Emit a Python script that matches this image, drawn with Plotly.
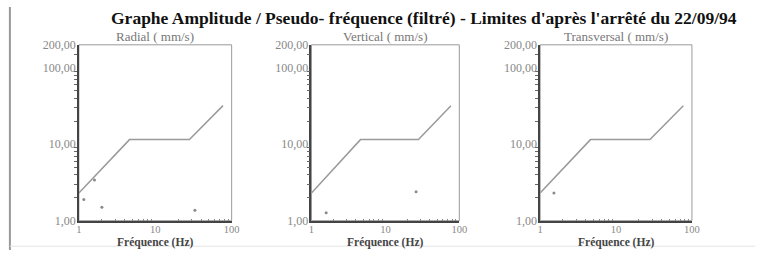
import plotly.graph_objects as go

# ---- data ----
panel_titles = ["Radial ( mm/s)", "Vertical ( mm/s)", "Transversal ( mm/s)"]
limit_freq = [1, 4.6, 28, 77]          # Hz
limit_amp = [2.3, 11.5, 11.5, 32]      # mm/s (limit curve, arrêté 22/09/94)
radial_freq = [1.16, 1.6, 2.0, 33]
radial_amp = [1.9, 3.4, 1.5, 1.37]
vertical_freq = [1.58, 26]
vertical_amp = [1.27, 2.4]
transversal_freq = [1.52]
transversal_amp = [2.3]
y_tickvals = [1, 10, 100, 200]
y_ticktext = ["1,00", "10,00", "100,00", "200,00"]
x_tickvals = [1, 10, 100]
x_ticktext = ["1", "10", "100"]
x_title = "Fréquence (Hz)"
minor_vals = [2, 3, 4, 5, 6, 7, 8, 9, 20, 30, 40, 50, 60, 70, 80, 90, 150]

W, H = 763, 257
SERIF = "Liberation Serif, Times New Roman, serif"

fig = go.Figure()

measures = [(radial_freq, radial_amp), (vertical_freq, vertical_amp),
            (transversal_freq, transversal_amp)]
x_px = [(77, 232), (313, 463), (545, 699)]
y_dom = [1 - 226 / H, 1 - 40 / H]

for i, (title, (mf, ma)) in enumerate(zip(panel_titles, measures)):
    sfx = "" if i == 0 else str(i + 1)
    xa, ya = "x" + sfx, "y" + sfx
    fig.add_trace(go.Scatter(x=limit_freq, y=limit_amp, mode="lines",
                             line=dict(color="#9a9a9a", width=1.5),
                             xaxis=xa, yaxis=ya, showlegend=False,
                             name="Limite"))
    fig.add_trace(go.Scatter(x=mf, y=ma, mode="markers",
                             marker=dict(color="#8a8a8a", size=3),
                             xaxis=xa, yaxis=ya, showlegend=False,
                             name=title))
    xd = [x_px[i][0] / W, x_px[i][1] / W]
    fig.update_layout(**{
        "xaxis" + sfx: dict(
            type="log", range=[0, 2], domain=xd, anchor=ya,
            tickvals=x_tickvals, ticktext=x_ticktext, ticks="",
            showgrid=False, zeroline=False, showline=True,
            linecolor="#444", linewidth=1.5, ticklabelstandoff=-2,
            tickfont=dict(family=SERIF, size=10.5, color="#888"),
            minor=dict(tickvals=minor_vals, ticks="inside", ticklen=2,
                       tickcolor="#888", showgrid=False),
        ),
        "yaxis" + sfx: dict(
            type="log", range=[0, 2.30103], domain=y_dom, anchor=xa,
            tickvals=y_tickvals, ticktext=y_ticktext, ticks="",
            showgrid=False, zeroline=False, showline=True,
            linecolor="#444", linewidth=1.5, ticklabelstandoff=-1,
            tickfont=dict(family=SERIF, size=12, color="#888"),
            minor=dict(tickvals=minor_vals, ticks="outside", ticklen=3,
                       tickcolor="#666", showgrid=False),
        ),
    })
    # gray frame (top/right borders)
    fig.add_shape(type="rect", xref=xa + " domain", yref=ya + " domain",
                  x0=0, x1=1, y0=0, y1=1, line=dict(color="#9a9a9a", width=1),
                  layer="below")
    cx = (x_px[i][0] + x_px[i][1]) / 2 / W
    fig.add_annotation(text=title, xref="paper", yref="paper",
                       x=cx, y=1 - 40 / H,
                       showarrow=False, xanchor="center", yanchor="bottom",
                       borderpad=0,
                       font=dict(family=SERIF, size=13, color="#777"))
    fig.add_annotation(text="<b>" + x_title + "</b>", xref="paper", yref="paper",
                       x=cx, y=0,
                       showarrow=False, xanchor="center", yanchor="bottom",
                       borderpad=0,
                       font=dict(family=SERIF, size=11.5, color="#444"))

fig.add_annotation(
    text="<b>Graphe Amplitude / Pseudo- fréquence (filtré) - Limites d'après l'arrêté du 22/09/94</b>",
    xref="paper", yref="paper", x=427 / W, y=1, showarrow=False,
    xanchor="center", yanchor="top", borderpad=0,
    font=dict(family=SERIF, size=17.5, color="#111"))

# page frame lines
fig.add_shape(type="line", xref="paper", yref="paper", x0=7 / W, x1=7 / W,
              y0=0, y1=1, line=dict(color="#999", width=2))
fig.add_shape(type="line", xref="paper", yref="paper", x0=7 / W, x1=1,
              y0=1 - 253 / H, y1=1 - 253 / H, line=dict(color="#e4e4e4", width=1))

fig.update_layout(width=W, height=H, margin=dict(l=0, r=0, t=0, b=0),
                  paper_bgcolor="white", plot_bgcolor="white")

fig.write_html("out.html", config={"displayModeBar": False},
               post_script="document.body.style.margin='0';"
                           "document.body.style.overflow='hidden';")
